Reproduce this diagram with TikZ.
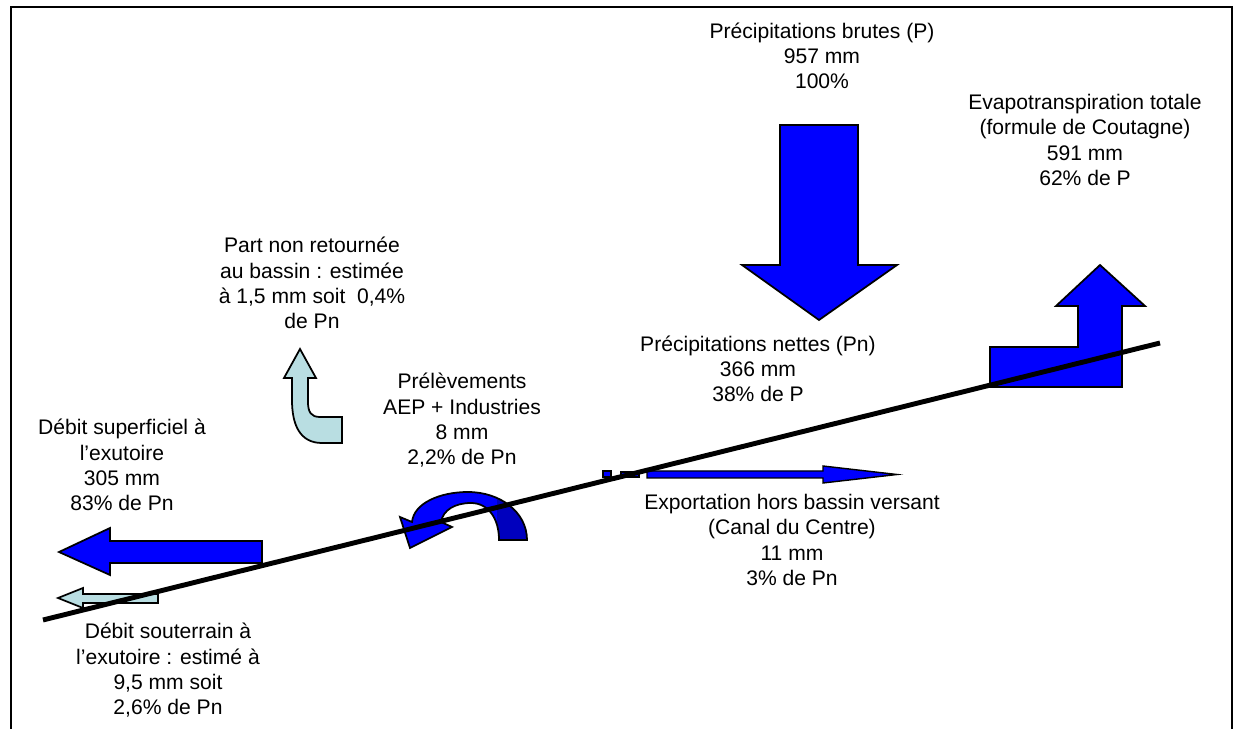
\documentclass[tikz,border=0pt]{standalone}
\usepackage{fontspec}
\setmainfont{Liberation Sans}
\definecolor{flowblue}{RGB}{0,0,255}
\definecolor{flowdark}{RGB}{0,0,190}
\definecolor{flowlight}{RGB}{185,222,226}
\begin{document}
\begin{tikzpicture}[x=0.02cm,y=-0.02cm,
  txt/.style={font=\fontsize{12}{14.4}\selectfont, align=center, inner sep=0pt},
  shapeblue/.style={draw=black, line width=1pt, fill=flowblue, line join=miter},
  shapelight/.style={draw=black, line width=1pt, fill=flowlight, line join=miter},
  ground/.style={line width=2.8pt, draw=black},
  frameline/.style={line width=1.2pt}]
\useasboundingbox (0,0) rectangle (1241,729);
% frame
\draw[frameline] (11,729) -- (11,7) -- (1232,7) -- (1232,729);
% precipitation arrow
\draw[shapeblue] (780,125) -- (858,125) -- (858,265) -- (897,265) -- (819,320) -- (742,265) -- (780,265) -- cycle;
% evapotranspiration arrow
\draw[shapeblue] (990,347) -- (1078,347) -- (1078,306) -- (1056,306) -- (1100,265) -- (1145,306) -- (1122,306) -- (1122,387) -- (990,387) -- cycle;
% surface outflow
\draw[shapeblue] (59,552) -- (110,528) -- (110,541) -- (262,541) -- (262,563) -- (110,563) -- (110,575) -- cycle;
% groundwater outflow
\draw[shapelight] (58,598) -- (83,588) -- (83,594) -- (158,594) -- (158,603) -- (83,603) -- (83,608) -- cycle;
% part non retournee
\draw[shapelight] (300,349) -- (316,378) -- (308,378) -- (308,402) .. controls (308,412) and (311,417) .. (320,417) -- (342,417) -- (342,443) -- (322,443) .. controls (300,443) and (292,425) .. (292,400) -- (292,378) -- (284,378) -- cycle;
% export
\draw[shapeblue, line width=0.8pt] (603,471) rectangle (611,477);
\draw[shapeblue, line width=0.8pt] (621,472) rectangle (639,477);
\draw[shapeblue, line width=0.8pt] (647,471) -- (823,471) -- (823,466) -- (897,474.5) -- (823,483) -- (823,478) -- (647,478) -- cycle;
% curved arrow (prelevements)
\path[fill=flowblue] (412,522) .. controls (414,503) and (440,492) .. (468,492) .. controls (500,492) and (527,512) .. (527,540) -- (499,540) .. controls (499,518) and (488,503) .. (471,503) .. controls (455,503) and (443,510) .. (441,522) -- (452,527) -- (410,548) -- (400,517) -- cycle;
\begin{scope}
\clip (497,480) rectangle (540,545);
\path[fill=flowdark] (412,522) .. controls (414,503) and (440,492) .. (468,492) .. controls (500,492) and (527,512) .. (527,540) -- (499,540) .. controls (499,518) and (488,503) .. (471,503) .. controls (455,503) and (443,510) .. (441,522) -- cycle;
\end{scope}
\draw[line width=1pt, line join=miter] (412,522) .. controls (414,503) and (440,492) .. (468,492) .. controls (500,492) and (527,512) .. (527,540) -- (499,540) .. controls (499,518) and (488,503) .. (471,503) .. controls (455,503) and (443,510) .. (441,522) -- (452,527) -- (410,548) -- (400,517) -- cycle;
% ground line
\coordinate (g1) at (43,620);
\coordinate (g2) at (1160,343);
\draw[ground] (g1) -- (g2);
% texts
\node[txt] (pb) at (822,56) {Précipitations brutes (P)\\957 mm\\100\%};
\node[txt] (et) at (1085,140) {Evapotranspiration totale\\(formule de Coutagne)\\591 mm\\62\% de P};
\node[txt] (pnr) at (312,283) {Part non retournée\\au bassin : estimée\\à 1,5 mm soit\ \ 0,4\%\\de Pn};
\node[txt] (pn) at (758,369) {Précipitations nettes (Pn)\\366 mm\\38\% de P};
\node[txt] (pr) at (462,420.5) {Prélèvements\\AEP + Industries\\8 mm\\2,2\% de Pn};
\node[txt] (ds) at (122,465) {Débit superficiel à\\l’exutoire\\305 mm\\83\% de Pn};
\node[txt] (ex) at (792,540) {Exportation hors bassin versant\\(Canal du Centre)\\11 mm\\3\% de Pn};
\node[txt] (dso) at (168,670.5) {Débit souterrain à\\l’exutoire : estimé à\\9,5 mm soit\\2,6\% de Pn};
\end{tikzpicture}
\end{document}
